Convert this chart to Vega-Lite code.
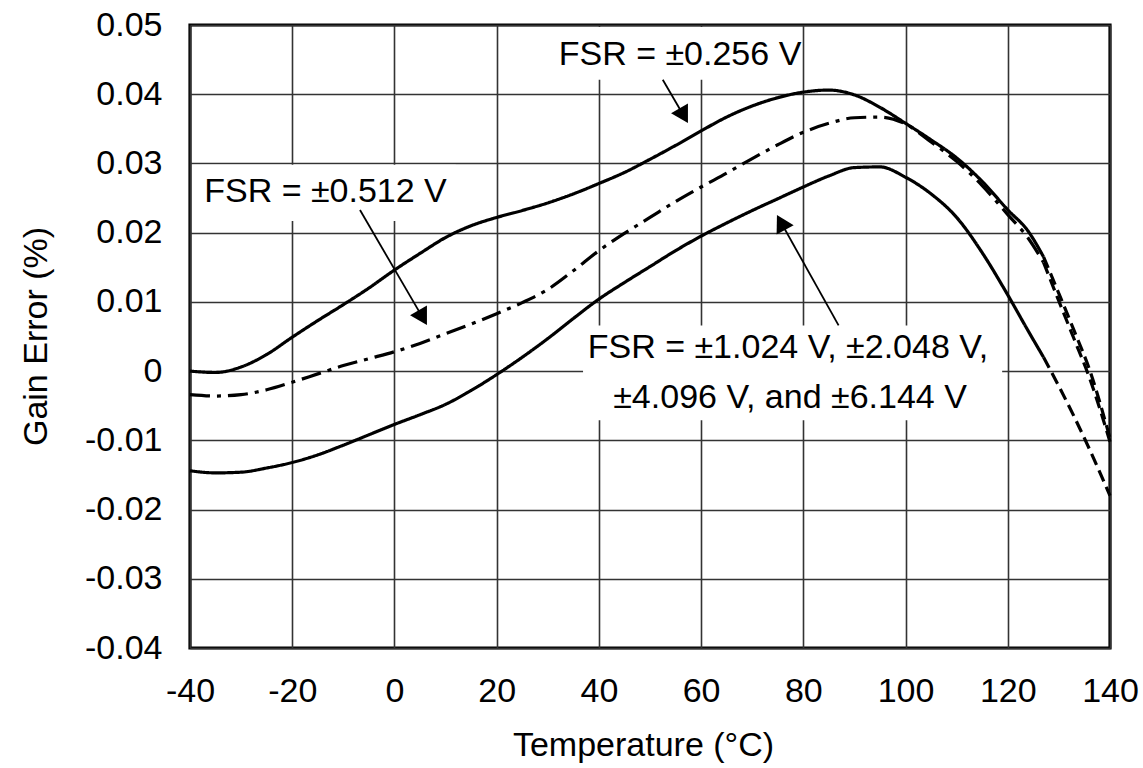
{
  "$schema": "https://vega.github.io/schema/vega-lite/v6.json",
  "width": 920,
  "height": 623,
  "autosize": "none",
  "padding": {"left": 190, "top": 25, "right": 33, "bottom": 120},
  "background": "white",
  "config": {
    "font": "Liberation Sans",
    "view": {"stroke": "#000", "strokeWidth": 3.2},
    "axis": {
      "grid": true, "gridColor": "#333", "gridWidth": 1.6, "gridOpacity": 1,
      "domain": false, "ticks": false,
      "labelFont": "Liberation Sans", "labelFontSize": 34, "labelColor": "#000",
      "labelFlush": false, "labelOverlap": false, "labelBound": false,
      "titleFont": "Liberation Sans", "titleFontSize": 34, "titleFontWeight": "normal", "titleColor": "#000"
    }
  },
  "datasets": {
    "main": [
      {"T": -40, "v": 0.0000, "curve": "±0.256 V"}, {"T": -35, "v": -0.0002, "curve": "±0.256 V"}, {"T": -30, "v": 0.0006, "curve": "±0.256 V"}, {"T": -25, "v": 0.0024, "curve": "±0.256 V"}, {"T": -20, "v": 0.0049, "curve": "±0.256 V"}, {"T": -15, "v": 0.0073, "curve": "±0.256 V"}, {"T": -10, "v": 0.0096, "curve": "±0.256 V"}, {"T": -5, "v": 0.0120, "curve": "±0.256 V"}, {"T": 0, "v": 0.0146, "curve": "±0.256 V"}, {"T": 5, "v": 0.0170, "curve": "±0.256 V"}, {"T": 10, "v": 0.0193, "curve": "±0.256 V"}, {"T": 15, "v": 0.0210, "curve": "±0.256 V"}, {"T": 20, "v": 0.0222, "curve": "±0.256 V"}, {"T": 25, "v": 0.0232, "curve": "±0.256 V"}, {"T": 30, "v": 0.0243, "curve": "±0.256 V"}, {"T": 35, "v": 0.0256, "curve": "±0.256 V"}, {"T": 40, "v": 0.0271, "curve": "±0.256 V"}, {"T": 45, "v": 0.0287, "curve": "±0.256 V"}, {"T": 50, "v": 0.0306, "curve": "±0.256 V"}, {"T": 55, "v": 0.0326, "curve": "±0.256 V"}, {"T": 60, "v": 0.0347, "curve": "±0.256 V"}, {"T": 65, "v": 0.0367, "curve": "±0.256 V"}, {"T": 70, "v": 0.0383, "curve": "±0.256 V"}, {"T": 75, "v": 0.0395, "curve": "±0.256 V"}, {"T": 80, "v": 0.0403, "curve": "±0.256 V"}, {"T": 85, "v": 0.0406, "curve": "±0.256 V"}, {"T": 90, "v": 0.0399, "curve": "±0.256 V"}, {"T": 95, "v": 0.0381, "curve": "±0.256 V"}, {"T": 100, "v": 0.0358, "curve": "±0.256 V"}, {"T": 105, "v": 0.0334, "curve": "±0.256 V"}, {"T": 110, "v": 0.0308, "curve": "±0.256 V"}, {"T": 115, "v": 0.0274, "curve": "±0.256 V"}, {"T": 120, "v": 0.0233, "curve": "±0.256 V"}, {"T": 124, "v": 0.0202, "curve": "±0.256 V"}, {"T": 127, "v": 0.0165, "curve": "±0.256 V"},
      {"T": -40, "v": -0.0034, "curve": "±0.512 V"}, {"T": -35, "v": -0.0036, "curve": "±0.512 V"}, {"T": -30, "v": -0.0034, "curve": "±0.512 V"}, {"T": -25, "v": -0.0027, "curve": "±0.512 V"}, {"T": -20, "v": -0.0016, "curve": "±0.512 V"}, {"T": -15, "v": -0.0004, "curve": "±0.512 V"}, {"T": -10, "v": 0.0008, "curve": "±0.512 V"}, {"T": -5, "v": 0.0018, "curve": "±0.512 V"}, {"T": 0, "v": 0.0028, "curve": "±0.512 V"}, {"T": 5, "v": 0.0040, "curve": "±0.512 V"}, {"T": 10, "v": 0.0054, "curve": "±0.512 V"}, {"T": 15, "v": 0.0068, "curve": "±0.512 V"}, {"T": 20, "v": 0.0083, "curve": "±0.512 V"}, {"T": 25, "v": 0.0099, "curve": "±0.512 V"}, {"T": 30, "v": 0.0118, "curve": "±0.512 V"}, {"T": 35, "v": 0.0145, "curve": "±0.512 V"}, {"T": 40, "v": 0.0174, "curve": "±0.512 V"}, {"T": 45, "v": 0.0199, "curve": "±0.512 V"}, {"T": 50, "v": 0.0222, "curve": "±0.512 V"}, {"T": 55, "v": 0.0245, "curve": "±0.512 V"}, {"T": 60, "v": 0.0266, "curve": "±0.512 V"}, {"T": 65, "v": 0.0286, "curve": "±0.512 V"}, {"T": 70, "v": 0.0307, "curve": "±0.512 V"}, {"T": 75, "v": 0.0327, "curve": "±0.512 V"}, {"T": 80, "v": 0.0345, "curve": "±0.512 V"}, {"T": 85, "v": 0.0358, "curve": "±0.512 V"}, {"T": 90, "v": 0.0366, "curve": "±0.512 V"}, {"T": 95, "v": 0.0367, "curve": "±0.512 V"}, {"T": 100, "v": 0.0357, "curve": "±0.512 V"}, {"T": 105, "v": 0.0331, "curve": "±0.512 V"}, {"T": 110, "v": 0.0303, "curve": "±0.512 V"}, {"T": 115, "v": 0.0268, "curve": "±0.512 V"}, {"T": 120, "v": 0.0226, "curve": "±0.512 V"}, {"T": 124, "v": 0.0192, "curve": "±0.512 V"}, {"T": 127, "v": 0.0157, "curve": "±0.512 V"},
      {"T": -40, "v": -0.0144, "curve": "±1.024 V to ±6.144 V"}, {"T": -35, "v": -0.0147, "curve": "±1.024 V to ±6.144 V"}, {"T": -30, "v": -0.0146, "curve": "±1.024 V to ±6.144 V"}, {"T": -25, "v": -0.0140, "curve": "±1.024 V to ±6.144 V"}, {"T": -20, "v": -0.0132, "curve": "±1.024 V to ±6.144 V"}, {"T": -15, "v": -0.0121, "curve": "±1.024 V to ±6.144 V"}, {"T": -10, "v": -0.0107, "curve": "±1.024 V to ±6.144 V"}, {"T": -5, "v": -0.0092, "curve": "±1.024 V to ±6.144 V"}, {"T": 0, "v": -0.0077, "curve": "±1.024 V to ±6.144 V"}, {"T": 5, "v": -0.0063, "curve": "±1.024 V to ±6.144 V"}, {"T": 10, "v": -0.0048, "curve": "±1.024 V to ±6.144 V"}, {"T": 15, "v": -0.0028, "curve": "±1.024 V to ±6.144 V"}, {"T": 20, "v": -0.0005, "curve": "±1.024 V to ±6.144 V"}, {"T": 25, "v": 0.0020, "curve": "±1.024 V to ±6.144 V"}, {"T": 30, "v": 0.0047, "curve": "±1.024 V to ±6.144 V"}, {"T": 35, "v": 0.0076, "curve": "±1.024 V to ±6.144 V"}, {"T": 40, "v": 0.0104, "curve": "±1.024 V to ±6.144 V"}, {"T": 45, "v": 0.0128, "curve": "±1.024 V to ±6.144 V"}, {"T": 50, "v": 0.0151, "curve": "±1.024 V to ±6.144 V"}, {"T": 55, "v": 0.0174, "curve": "±1.024 V to ±6.144 V"}, {"T": 60, "v": 0.0195, "curve": "±1.024 V to ±6.144 V"}, {"T": 65, "v": 0.0214, "curve": "±1.024 V to ±6.144 V"}, {"T": 70, "v": 0.0232, "curve": "±1.024 V to ±6.144 V"}, {"T": 75, "v": 0.0249, "curve": "±1.024 V to ±6.144 V"}, {"T": 80, "v": 0.0266, "curve": "±1.024 V to ±6.144 V"}, {"T": 85, "v": 0.0282, "curve": "±1.024 V to ±6.144 V"}, {"T": 90, "v": 0.0294, "curve": "±1.024 V to ±6.144 V"}, {"T": 95, "v": 0.0295, "curve": "±1.024 V to ±6.144 V"}, {"T": 100, "v": 0.0280, "curve": "±1.024 V to ±6.144 V"}, {"T": 105, "v": 0.0256, "curve": "±1.024 V to ±6.144 V"}, {"T": 110, "v": 0.0222, "curve": "±1.024 V to ±6.144 V"}, {"T": 115, "v": 0.0171, "curve": "±1.024 V to ±6.144 V"}, {"T": 120, "v": 0.0110, "curve": "±1.024 V to ±6.144 V"}, {"T": 124, "v": 0.0058, "curve": "±1.024 V to ±6.144 V"}, {"T": 127, "v": 0.0020, "curve": "±1.024 V to ±6.144 V"}
    ],
    "tail": [
      {"T": 127, "v": 0.0165, "curve": "±0.256 V"}, {"T": 130, "v": 0.0112, "curve": "±0.256 V"}, {"T": 133, "v": 0.0058, "curve": "±0.256 V"}, {"T": 136, "v": 0.0002, "curve": "±0.256 V"}, {"T": 140, "v": -0.0097, "curve": "±0.256 V"},
      {"T": 127, "v": 0.0157, "curve": "±0.512 V"}, {"T": 130, "v": 0.0101, "curve": "±0.512 V"}, {"T": 133, "v": 0.0046, "curve": "±0.512 V"}, {"T": 136, "v": -0.0010, "curve": "±0.512 V"}, {"T": 140, "v": -0.0102, "curve": "±0.512 V"},
      {"T": 127, "v": 0.0020, "curve": "±1.024 V to ±6.144 V"}, {"T": 130, "v": -0.0022, "curve": "±1.024 V to ±6.144 V"}, {"T": 133, "v": -0.0066, "curve": "±1.024 V to ±6.144 V"}, {"T": 136, "v": -0.0113, "curve": "±1.024 V to ±6.144 V"}, {"T": 140, "v": -0.0180, "curve": "±1.024 V to ±6.144 V"}
    ],
    "boxes": [
      {"T": 30.0, "T2": 79.3, "v": 0.0421, "v2": 0.0497},
      {"T": -39.6, "T2": 12.0, "v": 0.0217, "v2": 0.0298},
      {"T": 36.9, "T2": 118.9, "v": -0.0071, "v2": 0.0066}
    ],
    "arrows": [
      {"T": 52.5, "v": 0.0421, "T2": 56.6, "v2": 0.0369},
      {"T": -6.74, "v": 0.02327, "T2": 5.53, "v2": 0.00772},
      {"T": 86.9, "v": 0.0066, "T2": 75.64, "v2": 0.02147}
    ],
    "heads": [
      {"T": 56.6, "v": 0.0369, "heading": 150},
      {"T": 5.53, "v": 0.00772, "heading": 150},
      {"T": 75.64, "v": 0.02147, "heading": 331}
    ],
    "labels": [
      {"T": 55.87, "v": 0.0457, "label": "FSR = ±0.256 V"},
      {"T": -13.49, "v": 0.0259, "label": "FSR = ±0.512 V"},
      {"T": 77.0, "v": 0.0033, "label": "FSR = ±1.024 V, ±2.048 V,"},
      {"T": 77.4, "v": -0.0039, "label": "±4.096 V, and ±6.144 V"}
    ]
  },
  "encoding": {
    "x": {
      "field": "T", "type": "quantitative",
      "scale": {"domain": [-40, 140], "nice": false, "zero": false},
      "axis": {
        "title": "Temperature (°C)",
        "values": [-40, -20, 0, 20, 40, 60, 80, 100, 120, 140],
        "labelExpr": "'' + datum.value",
        "labelPadding": 26,
        "titleX": 453, "titleY": 97, "titleBaseline": "middle", "titleAlign": "center"
      }
    },
    "y": {
      "field": "v", "type": "quantitative",
      "scale": {"domain": [-0.04, 0.05], "nice": false, "zero": false},
      "axis": {
        "title": "Gain Error (%)",
        "values": [-0.04, -0.03, -0.02, -0.01, 0, 0.01, 0.02, 0.03, 0.04, 0.05],
        "labelExpr": "'' + datum.value",
        "labelPadding": 28,
        "titleX": -154, "titleY": 311, "titleAngle": -90, "titleBaseline": "middle", "titleAlign": "center"
      }
    }
  },
  "layer": [
    {
      "data": {"name": "boxes"},
      "mark": {"type": "rect", "fill": "white", "stroke": null},
      "encoding": {"x2": {"field": "T2"}, "y2": {"field": "v2"}}
    },
    {
      "data": {"name": "main"},
      "mark": {"type": "line", "color": "#000", "strokeWidth": 3.2, "interpolate": "monotone"},
      "encoding": {
        "strokeDash": {
          "field": "curve", "type": "nominal", "legend": null,
          "scale": {"domain": ["±0.256 V", "±0.512 V", "±1.024 V to ±6.144 V"], "range": [[1, 0], [20, 7, 4, 7], [1, 0]]}
        }
      }
    },
    {
      "data": {"name": "tail"},
      "mark": {"type": "line", "color": "#000", "strokeWidth": 3.2, "strokeDash": [12, 6], "interpolate": "monotone"},
      "encoding": {"detail": {"field": "curve", "type": "nominal"}}
    },
    {
      "data": {"name": "arrows"},
      "mark": {"type": "rule", "color": "#000", "strokeWidth": 1.8},
      "encoding": {"x2": {"field": "T2"}, "y2": {"field": "v2"}}
    },
    {
      "data": {"name": "heads"},
      "mark": {"type": "point", "shape": "triangle-up", "filled": true, "color": "#000", "size": 380, "opacity": 1},
      "encoding": {"angle": {"field": "heading", "type": "quantitative", "scale": null}}
    },
    {
      "data": {"name": "labels"},
      "mark": {"type": "text", "font": "Liberation Sans", "fontSize": 34, "align": "center", "baseline": "middle", "color": "#000"},
      "encoding": {"text": {"field": "label", "type": "nominal"}}
    }
  ]
}
